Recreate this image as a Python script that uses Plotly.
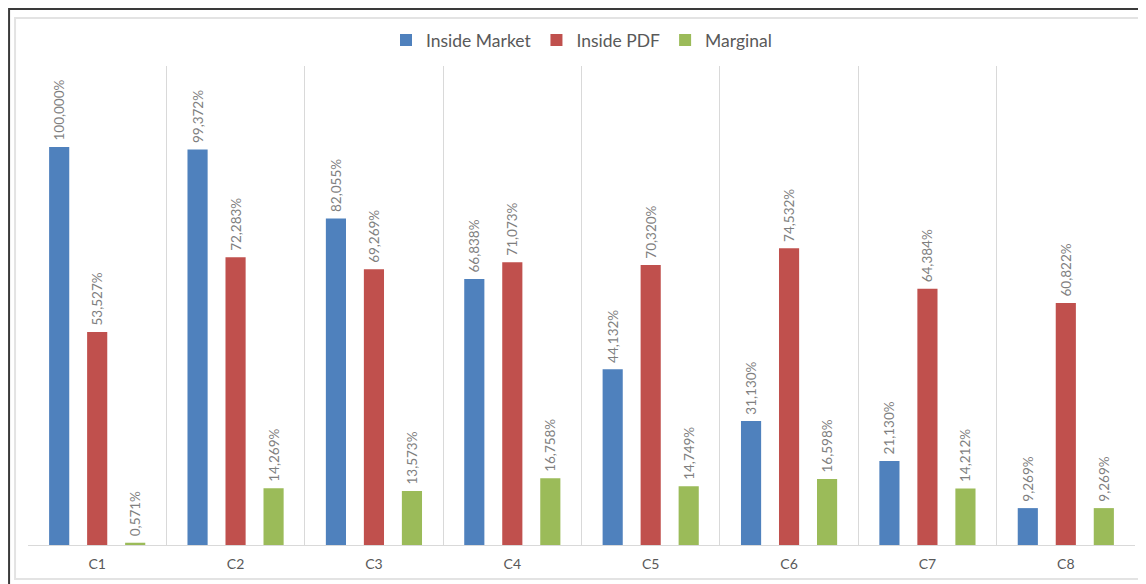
import plotly.graph_objects as go

categories = ["C1", "C2", "C3", "C4", "C5", "C6", "C7", "C8"]
inside_market = [100.000, 99.372, 82.055, 66.838, 44.132, 31.130, 21.130, 9.269]
inside_pdf = [53.527, 72.283, 69.269, 71.073, 70.320, 74.532, 64.384, 60.822]
marginal = [0.571, 14.269, 13.573, 16.758, 14.749, 16.598, 14.212, 9.269]

series = [
    ("Inside Market", inside_market, "#4f81bd"),
    ("Inside PDF", inside_pdf, "#c0504d"),
    ("Marginal", marginal, "#9bbb59"),
]


def pct(v):
    # excel style labels, comma as decimal mark (nbsp gives a little gap above the bar)
    return "\u00a0" + f"{v:.3f}%".replace(".", ",")


fig = go.Figure()
for name, vals, col in series:
    fig.add_trace(go.Bar(
        x=categories, y=vals, name=name,
        marker=dict(color=col, line=dict(width=0)),
        text=[pct(v) for v in vals],
        textposition="outside", textangle=-90,
        textfont=dict(size=13.5, color="#7f7f7f"),
        constraintext="none", cliponaxis=False,
    ))

# page body adds 8px, so figure is a bit smaller than the window
fig.update_layout(
    width=1138, height=576,
    margin=dict(l=20, r=11, t=58, b=39),
    paper_bgcolor="white", plot_bgcolor="white",
    font=dict(family="Lato, Open Sans, sans-serif", color="#595959"),
    barmode="group", bargap=0.176, bargroupgap=0.47,
    legend=dict(orientation="h", x=0.5, xanchor="center", y=1.054, yanchor="middle",
                font=dict(size=17.5, color="#595959"), itemwidth=30, traceorder="normal"),
    showlegend=True,
)
fig.update_xaxes(
    type="category", tickson="boundaries", ticks="",
    showgrid=True, gridcolor="#d9d9d9", gridwidth=1,
    showline=True, linecolor="#d9d9d9", linewidth=1,
    tickfont=dict(size=14, color="#595959"), ticklabelstandoff=6,
)
fig.update_yaxes(range=[0, 120.35], visible=False, showgrid=False, zeroline=False)

# chart frame: light inner border and dark outer border
fig.add_shape(type="rect", xref="paper", yref="paper",
              x0=-0.0117, x1=1.009, y0=-0.071, y1=1.1002,
              line=dict(color="#e3e3e3", width=2), layer="below")
fig.add_shape(type="rect", xref="paper", yref="paper",
              x0=-0.0171, x1=1.03, y0=-0.09, y1=1.119,
              line=dict(color="#3a3a3a", width=2), layer="below")

fig.write_html("out.html")
